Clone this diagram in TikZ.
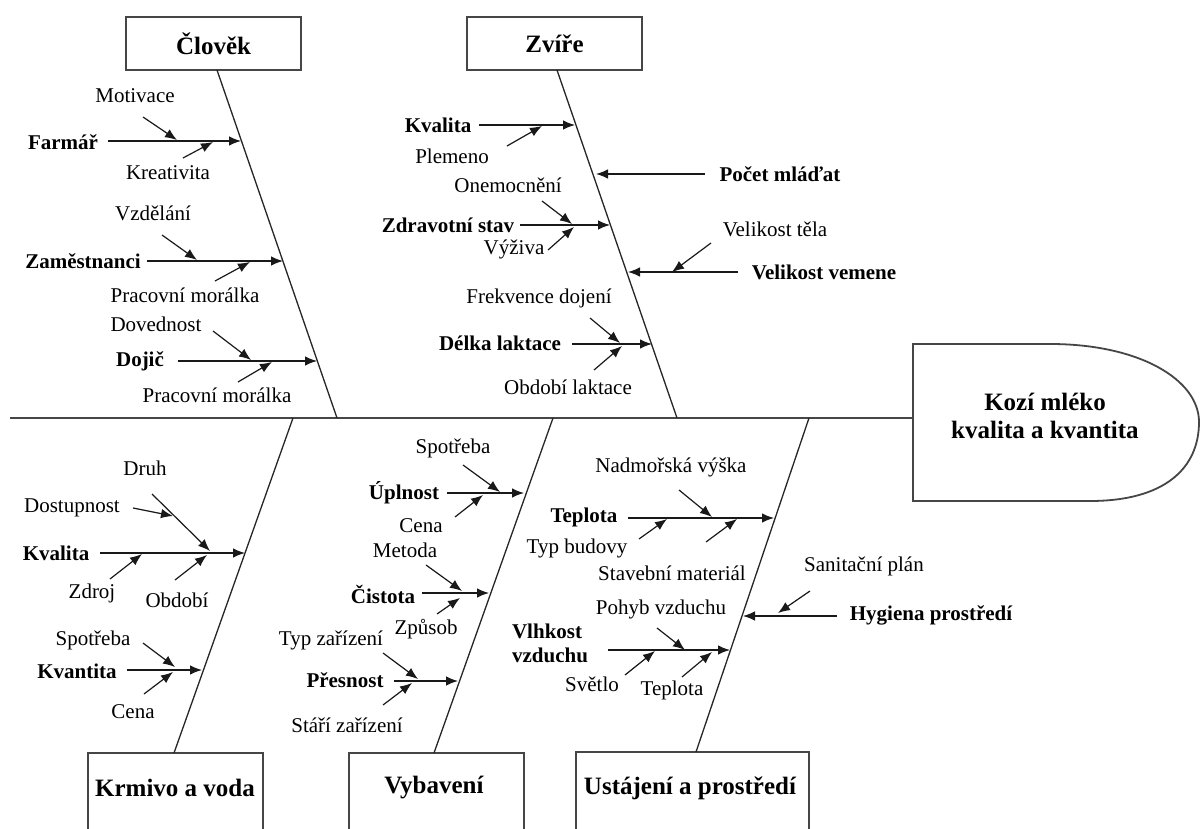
\documentclass[tikz,border=0pt]{standalone}
\usepackage{fontspec}
\setmainfont{Liberation Serif}
\usetikzlibrary{arrows.meta}
\definecolor{linegray}{RGB}{70,70,70}
\begin{document}
\begin{tikzpicture}[x=1pt,y=-1pt,
 lab/.style={inner sep=0pt,font=\fontsize{21}{24}\selectfont},
 blab/.style={inner sep=0pt,font=\bfseries\fontsize{21}{24}\selectfont},
 ttl/.style={inner sep=0pt,font=\bfseries\fontsize{25}{28}\selectfont},
 boxd/.style={draw=linegray,line width=1.8pt},
 bone/.style={line width=1.3pt,draw=black!85},
 arr/.style={line width=1.2pt,draw=black!90,-{Latex[length=12pt,width=9.5pt]}},
]
\useasboundingbox (0,0) rectangle (1200,829);
\fill[white] (0,0) rectangle (1200,829);

% head
\draw[boxd] (913,344) -- (1050,344) .. controls (1140,344) and (1199,380) .. (1199,422) .. controls (1199,468) and (1165,501) .. (1090,501) -- (913,501) -- cycle;
\node[ttl,align=center] (head) at (1045,416) {Kozí mléko\\kvalita a kvantita};
\coordinate (headW) at (913,418);
\coordinate (tail) at (10,418);
\draw[bone,line width=1.6pt,draw=linegray] (tail) -- (headW);

% top boxes
\node[boxd,minimum width=175pt,minimum height=53pt,ttl] (clovek) at (213.5,43.5) {Člověk};
\node[boxd,minimum width=175pt,minimum height=53pt,ttl] (zvire) at (554.5,43.5) {Zvíře};

% bottom boxes
\draw[boxd] (88,835) |- (263,753) -- (263,835);
\node[ttl] (krmivo) at (175,788) {Krmivo a voda};
\draw[boxd] (349,835) |- (524,753) -- (524,835);
\node[ttl] (vybaveni) at (434,788) {Vybavení};
\draw[boxd] (576,835) |- (809,752) -- (809,835);
\node[ttl] (ustajeni) at (690,788) {Ustájení a prostředí};

% main bones
\draw[bone] (217,70) coordinate (clT) -- (337,418) coordinate (clB);
\draw[bone] (557,70) coordinate (zvT) -- (677,418) coordinate (zvB);
\draw[bone] (293,418) coordinate (krT) -- (174,753) coordinate (krB);
\draw[bone] (553,418) coordinate (vyT) -- (434,753) coordinate (vyB);
\draw[bone] (809,418) coordinate (usT) -- (696,752) coordinate (usB);

% ---- Clovek
\node[blab] (farmar) at (63,142) {Farmář};
\draw[arr] (108,141) coordinate (farS) -- (241,141) coordinate (farE);
\node[lab] (motiv) at (135,96) {Motivace};
\draw[arr] (143,117) coordinate (motS) -- (177,140) coordinate (motE);
\node[lab] (kreat) at (168,173) {Kreativita};
\draw[arr] (183,158) coordinate (kreS) -- (213,142) coordinate (kreE);

\node[blab] (zam) at (83,261) {Zaměstnanci};
\draw[arr] (147,261) coordinate (zamS) -- (283,261) coordinate (zamE);
\node[lab] (vzd) at (153,213) {Vzdělání};
\draw[arr] (162,235) coordinate (vzdS) -- (197,260) coordinate (vzdE);
\node[lab] (pm1) at (185,295) {Pracovní morálka};
\draw[arr] (215,281) coordinate (pm1S) -- (250,262) coordinate (pm1E);

\node[blab] (dojic) at (140,361) {Dojič};
\draw[arr] (178,361) coordinate (dojS) -- (317,361) coordinate (dojE);
\node[lab] (dov) at (156,324) {Dovednost};
\draw[arr] (213,331) coordinate (dovS) -- (251,360) coordinate (dovE);
\node[lab] (pm2) at (217,395) {Pracovní morálka};
\draw[arr] (238,382) coordinate (pm2S) -- (272,362) coordinate (pm2E);

% ---- Zvire
\node[blab] (kval1) at (438,125) {Kvalita};
\draw[arr] (479,125) coordinate (kv1S) -- (575,125) coordinate (kv1E);
\node[lab] (plem) at (452,156) {Plemeno};
\draw[arr] (507,146) coordinate (plS) -- (542,126) coordinate (plE);
\node[blab] (pocet) at (780,174) {Počet mláďat};
\draw[arr] (705,174) coordinate (poS) -- (596,174) coordinate (poE);
\node[lab] (onem) at (508,185) {Onemocnění};
\draw[arr] (542,201) coordinate (onS) -- (572,224) coordinate (onE);
\node[blab] (zdrav) at (448,225) {Zdravotní stav};
\draw[arr] (520,225) coordinate (zdS) -- (610,225) coordinate (zdE);
\node[lab] (vyziva) at (514,249) {Výživa};
\draw[arr] (548,250) coordinate (vzS) -- (574,227) coordinate (vzE);
\node[lab] (veltel) at (775,229) {Velikost těla};
\draw[arr] (711,243) coordinate (vtS) -- (672,272) coordinate (vtE);
\node[blab] (velvem) at (824,272) {Velikost vemene};
\draw[arr] (738,272) coordinate (vvS) -- (628,272) coordinate (vvE);
\node[lab] (frek) at (539,298) {Frekvence dojení};
\draw[arr] (590,318) coordinate (frS) -- (620,343) coordinate (frE);
\node[blab] (delka) at (500,343) {Délka laktace};
\draw[arr] (572,344) coordinate (dlS) -- (652,344) coordinate (dlE);
\node[lab] (obdlak) at (568,387) {Období laktace};
\draw[arr] (594,370) coordinate (olS) -- (622,346) coordinate (olE);

% ---- Krmivo a voda
\node[lab] (druh) at (145,468) {Druh};
\draw[arr] (152,494) coordinate (drS) -- (210,551) coordinate (drE);
\node[lab] (dost) at (72,508) {Dostupnost};
\draw[arr] (133,508) coordinate (doS) -- (173,516) coordinate (doE);
\node[blab] (kval2) at (56,553) {Kvalita};
\draw[arr] (100,553) coordinate (kv2S) -- (245,553) coordinate (kv2E);
\node[lab] (zdroj) at (92,593) {Zdroj};
\draw[arr] (110,579) coordinate (zjS) -- (142,554) coordinate (zjE);
\node[lab] (obdobi) at (177,600) {Období};
\draw[arr] (175,580) coordinate (obS) -- (207,555) coordinate (obE);
\node[lab] (spot1) at (93,640) {Spotřeba};
\draw[arr] (143,643) coordinate (sp1S) -- (175,667) coordinate (sp1E);
\node[blab] (kvant) at (77,671) {Kvantita};
\draw[arr] (127,670) coordinate (knS) -- (202,670) coordinate (knE);
\node[lab] (cena1) at (133,712) {Cena};
\draw[arr] (144,694) coordinate (ce1S) -- (173,672) coordinate (ce1E);

% ---- Vybaveni
\node[lab] (spot2) at (453,448) {Spotřeba};
\draw[arr] (463,465) coordinate (sp2S) -- (500,492) coordinate (sp2E);
\node[blab] (uplnost) at (404,493) {Úplnost};
\draw[arr] (447,493) coordinate (upS) -- (524,493) coordinate (upE);
\node[lab] (cena2) at (421,526) {Cena};
\draw[arr] (455,517) coordinate (ce2S) -- (483,495) coordinate (ce2E);
\node[lab] (metoda) at (405,550) {Metoda};
\draw[arr] (426,565) coordinate (meS) -- (462,591) coordinate (meE);
\node[blab] (cistota) at (383,594) {Čistota};
\draw[arr] (422,593) coordinate (ciS) -- (489,593) coordinate (ciE);
\node[lab] (zpusob) at (426,629) {Způsob};
\draw[arr] (437,614) coordinate (zpS) -- (460,598) coordinate (zpE);
\node[lab] (typzar) at (331,640) {Typ zařízení};
\draw[arr] (383,653) coordinate (tzS) -- (418,679) coordinate (tzE);
\node[blab] (presnost) at (345,680) {Přesnost};
\draw[arr] (394,681) coordinate (prS) -- (458,681) coordinate (prE);
\node[lab] (stari) at (347,725) {Stáří zařízení};
\draw[arr] (383,705) coordinate (stS) -- (412,683) coordinate (stE);

% ---- Ustajeni a prostredi
\node[lab] (nadm) at (671,467) {Nadmořská výška};
\draw[arr] (679,490) coordinate (naS) -- (712,517) coordinate (naE);
\node[blab] (teplota1) at (584,517) {Teplota};
\draw[arr] (628,518) coordinate (t1S) -- (774,518) coordinate (t1E);
\node[lab] (typbud) at (577,548) {Typ budovy};
\draw[arr] (639,539) coordinate (tbS) -- (667,519) coordinate (tbE);
\node[lab] (stavmat) at (672,573) {Stavební materiál};
\draw[arr] (706,542) coordinate (smS) -- (737,519) coordinate (smE);
\node[lab] (pohyb) at (661,609) {Pohyb vzduchu};
\draw[arr] (657,628) coordinate (phS) -- (685,650) coordinate (phE);
\node[blab,align=left] (vlhkost) at (550,643) {Vlhkost\\vzduchu};
\draw[arr] (608,650) coordinate (vlS) -- (730,650) coordinate (vlE);
\node[lab] (svetlo) at (592,684) {Světlo};
\draw[arr] (625,675) coordinate (svS) -- (655,651) coordinate (svE);
\node[lab] (teplota2) at (672,690) {Teplota};
\draw[arr] (682,677) coordinate (t2S) -- (712,652) coordinate (t2E);
\node[lab] (sanit) at (864,566) {Sanitační plán};
\draw[arr] (810,591) coordinate (saS) -- (778,613) coordinate (saE);
\node[blab] (hyg) at (931,615) {Hygiena prostředí};
\draw[arr] (837,616) coordinate (hyS) -- (743,616) coordinate (hyE);
\end{tikzpicture}
\end{document}
